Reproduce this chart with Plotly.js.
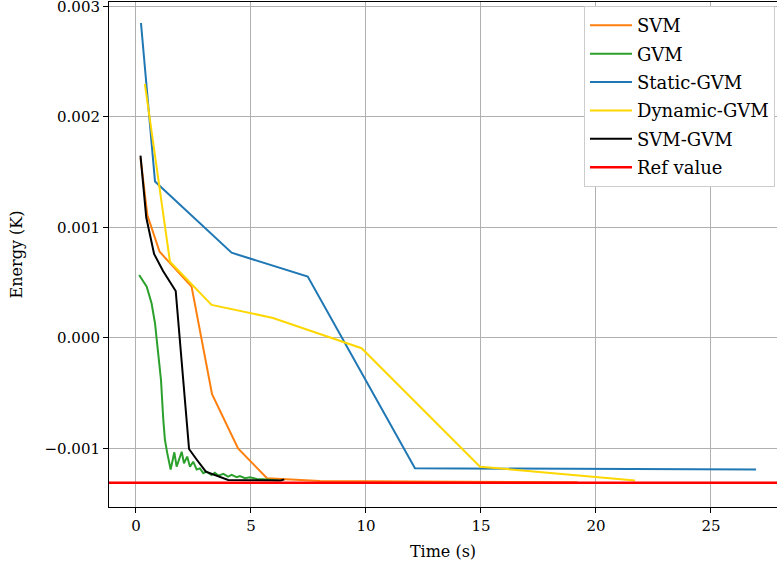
<!DOCTYPE html>
<html>
<head>
<meta charset="utf-8">
<script src="https://cdn.plot.ly/plotly-3.0.1.min.js"></script>
<style>html,body{margin:0;padding:0;background:#fff;}#chart{width:777px;height:567px;}</style>
</head>
<body>
<div id="chart"></div>
<script>
// ---- data ----
const svmX = [0.2, 0.5, 1.03, 2.42, 3.31, 4.44, 5.7, 8.0, 12.0, 16.0, 19.2];
const svmY = [0.00163, 0.00111, 0.00078, 0.000464, -0.00051, -0.001, -0.00127, -0.001295, -0.0013, -0.0013, -0.001305];

const gvmX = [0.14, 0.47, 0.68, 0.83, 0.9, 1.01, 1.09, 1.19, 1.26, 1.36, 1.51, 1.67, 1.77, 1.99, 2.09, 2.23, 2.35, 2.49, 2.64, 2.78, 2.93, 3.07, 3.29, 3.43, 3.58, 3.8, 4.01, 4.16, 4.38, 4.52, 4.74, 4.96, 5.25, 5.53, 5.83, 6.2];
const gvmY = [0.00057, 0.000464, 0.000314, 0.000133, -0.000006, -0.0002, -0.00038, -0.00074, -0.00092, -0.00104, -0.00119, -0.001035, -0.001165, -0.00103, -0.001134, -0.001074, -0.001165, -0.00112, -0.00119, -0.00118, -0.001224, -0.00121, -0.00124, -0.00122, -0.001246, -0.00123, -0.001255, -0.00124, -0.00126, -0.00125, -0.00127, -0.00126, -0.001276, -0.00128, -0.001285, -0.00129];

const staticX = [0.22, 0.83, 4.16, 7.47, 12.13, 20.0, 26.96];
const staticY = [0.00285, 0.001415, 0.000771, 0.000555, -0.00118, -0.001185, -0.00119];

const dynamicX = [0.39, 1.48, 3.29, 5.96, 9.81, 14.96, 21.7];
const dynamicY = [0.0023, 0.00069, 0.000299, 0.000181, -0.000093, -0.001165, -0.00129];

const svmgvmX = [0.2, 0.45, 0.79, 1.18, 1.73, 2.31, 2.64, 3.04, 4.01, 6.3, 6.45];
const svmgvmY = [0.00165, 0.00109, 0.00076, 0.000605, 0.000425, -0.001005, -0.0011, -0.00121, -0.001285, -0.00129, -0.00128];

const refValue = -0.00131;

const xRange = [-1.17, 27.87];
const yRange = [-0.00153, 0.00304];
const xTicks = [0, 5, 10, 15, 20, 25];
const yTicks = [-0.001, 0, 0.001, 0.002, 0.003];
const yTickText = ["\u22120.001", "0.000", "0.001", "0.002", "0.003"];

const names = ["SVM", "GVM", "Static-GVM", "Dynamic-GVM", "SVM-GVM", "Ref value"];
const colors = ["#ff7f0e", "#2ca02c", "#1f77b4", "#ffd700", "#000000", "#ff0000"];

function line(x, y, i, w) {
  return {x: x, y: y, type: "scatter", mode: "lines", name: names[i],
    legendgroup: "g" + i, line: {color: colors[i], width: w}};
}

const traces = [
  line(svmX, svmY, 0, 2),
  line(gvmX, gvmY, 1, 2),
  line(staticX, staticY, 2, 2),
  line(dynamicX, dynamicY, 3, 2),
  line(svmgvmX, svmgvmY, 4, 2),
  line(xRange, [refValue, refValue], 5, 2.5)
];

const font = "DejaVu Serif, serif";
const layout = {
  width: 777, height: 567,
  margin: {l: 109, r: 0, t: 2, b: 60, pad: 0},
  paper_bgcolor: "#ffffff", plot_bgcolor: "#ffffff",
  font: {family: font, size: 15, color: "#000"},
  showlegend: true,
  legend: {x: 0.997, y: 0.992, xanchor: "right", yanchor: "top",
    bgcolor: "#ffffff", bordercolor: "#cccccc", borderwidth: 1,
    itemwidth: 42,
    font: {family: font, size: 18, color: "#000"}, tracegroupgap: 2},
  xaxis: {range: xRange, tickvals: xTicks, ticks: "outside", ticklen: 5, tickcolor: "#000",
    showline: true, linecolor: "#000", linewidth: 1, mirror: true,
    showgrid: true, gridcolor: "#b0b0b0", gridwidth: 1, zeroline: false,
    tickfont: {family: font, size: 15}, ticklabeloverflow: "allow",
    title: {text: "Time (s)", font: {family: font, size: 16}, standoff: 11}},
  yaxis: {range: yRange, tickvals: yTicks, ticktext: yTickText, ticks: "outside", ticklen: 5, tickcolor: "#000",
    showline: true, linecolor: "#000", linewidth: 1,
    showgrid: true, gridcolor: "#b0b0b0", gridwidth: 1, zeroline: false,
    tickfont: {family: font, size: 15}, ticklabeloverflow: "allow",
    title: {text: "Energy (K)", font: {family: font, size: 16}, standoff: 17}}
};

Plotly.newPlot("chart", traces, layout, {staticPlot: true, displayModeBar: false});
</script>
</body>
</html>
